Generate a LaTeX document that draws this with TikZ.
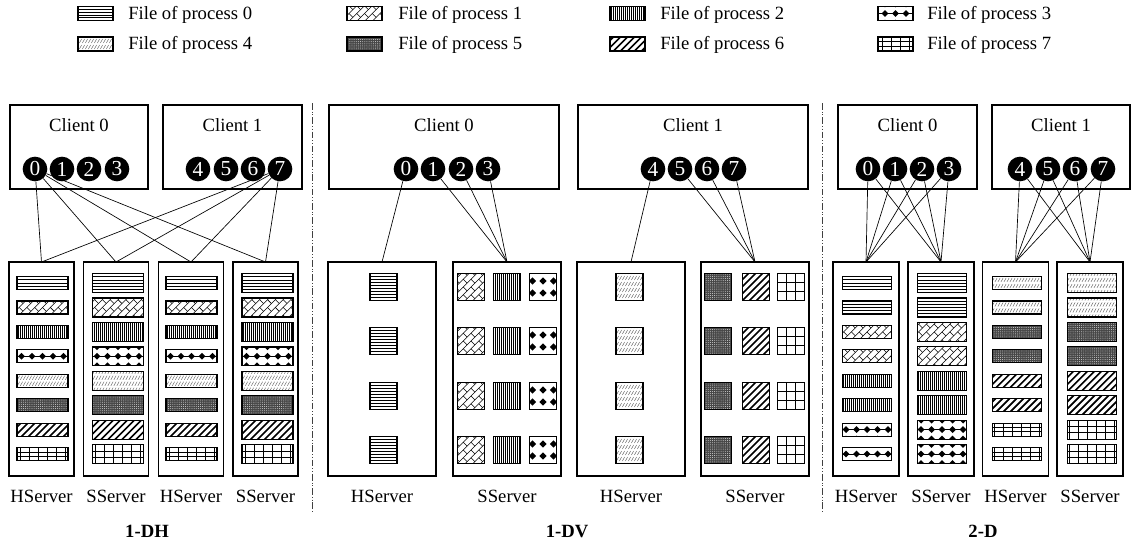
\documentclass[tikz,border=0pt]{standalone}
\usepackage{fontspec}
\setmainfont{Liberation Serif}
\usetikzlibrary{patterns.meta}
\tikzset{
  txt/.style={font=\fontsize{14}{16}\selectfont, inner sep=0pt},
  ttl/.style={font=\fontsize{14}{16}\selectfont\bfseries, inner sep=0pt},
  clientbox/.style={draw, line width=0.8pt, minimum height=63pt, inner sep=0pt, outer sep=0pt},
  srvbox/.style={draw, line width=0.8pt, minimum height=160.5pt, inner sep=0pt, outer sep=0pt},
  proc/.style={circle, fill=black, text=white, minimum size=18.5pt, inner sep=0pt, font=\fontsize{16}{16}\selectfont},
  conn/.style={line width=0.5pt},
  patline/.style={line width=0.4pt},
  hatchline/.style={line width=0.35pt, black!60},
  patborder/.style={line width=0.9pt},
  sepline/.style={line width=0.6pt, black!75, dash pattern=on 5pt off 1.5pt on 0.6pt off 1.5pt on 0.6pt off 1.5pt},
}
% kind, cx, cy, w, h  (picture units)
\newcommand\patbox[5]{%
  \begin{scope}
    \clip ({#2-#4/2},{#3-#5/2}) rectangle ({#2+#4/2},{#3+#5/2});
    \ifcase#1\relax
      % 0: horizontal lines
      \pgfmathtruncatemacro\nl{#5/3.3}%
      \foreach \pi in {1,...,\nl}
        \draw[patline] ({#2-#4/2},{#3-#5/2+#5*\pi/(\nl+1)}) -- ({#2+#4/2},{#3-#5/2+#5*\pi/(\nl+1)});
    \or
      % 1: rotated bricks
      \begin{scope}[shift={(#2,#3)}, rotate=45]
        \foreach \pr in {-7,...,7} {
          \draw[patline] (-45,{\pr*5.5}) -- (45,{\pr*5.5});
          \pgfmathsetmacro\boff{mod(\pr+20,2)*5.5}
          \foreach \pc in {-4,...,4}
            \draw[patline] ({\pc*11+\boff},{\pr*5.5}) -- ({\pc*11+\boff},{\pr*5.5+5.5});
        }
      \end{scope}
    \or
      % 2: dense vertical lines
      \foreach \pc in {-16,...,16}
        \draw[line width=0.45pt] ({#2+\pc*2},{#3-20}) -- ({#2+\pc*2},{#3+20});
    \or
      % 3: black diamonds
      \ifdim#5pt>20pt
        \foreach \pr in {-1,0} {
          \foreach \pc in {-2,...,2}
            \fill ({#2+\pc*10.5},{#3+(\pr+0.5)*12}) +(0,-3.6) -- +(3.6,0) -- +(0,3.6) -- +(-3.6,0) -- cycle;
        }
      \else
        \foreach \pr in {-1,0,1} {
          \draw[patline] ({#2-30},{#3+\pr*9.5}) -- ({#2+30},{#3+\pr*9.5});
          \foreach \pc in {-3,...,3}
            \fill ({#2+\pc*10.5},{#3+\pr*9.5}) +(0,-3.4) -- +(3.4,0) -- +(0,3.4) -- +(-3.4,0) -- cycle;
        }
      \fi
    \or
      % 4: light short hatches
      \foreach \pr in {-3,...,2} {
        \draw[hatchline] \foreach \pc in {-10,...,10} {
          ({#2+\pc*3-1.1},{#3+(\pr+0.5)*6+2}) -- ({#2+\pc*3+1.1},{#3+(\pr+0.5)*6-2}) };
      }
    \or
      % 5: dark dotted
      \fill[black!72] ({#2-#4/2},{#3-#5/2}) rectangle ({#2+#4/2},{#3+#5/2});
      \fill[pattern={Dots[distance=1.6pt, radius=0.35pt]}, pattern color=white!85!black]
        ({#2-#4/2},{#3-#5/2}) rectangle ({#2+#4/2},{#3+#5/2});
    \or
      % 6: bold diagonals
      \foreach \pc in {-6,...,6}
        \draw[line width=1.2pt] ({#2+\pc*7-20},{#3+20}) -- ({#2+\pc*7+20},{#3-20});
    \or
      % 7: grid
      \draw[line width=0.5pt] ({#2-#4/2},{#3-#5/6}) -- ({#2+#4/2},{#3-#5/6})
                              ({#2-#4/2},{#3+#5/6}) -- ({#2+#4/2},{#3+#5/6});
      \foreach \pc in {-3,...,2}
        \draw[line width=0.5pt] ({#2+(\pc+0.5)*9},{#3-20}) -- ({#2+(\pc+0.5)*9},{#3+20});
    \fi
  \end{scope}
  \draw[patborder] ({#2-#4/2},{#3-#5/2}) rectangle ({#2+#4/2},{#3+#5/2});
}
\begin{document}
\begin{tikzpicture}[x=0.75pt, y=-0.75pt]
\useasboundingbox (0,0) rectangle (1131,543);

% ---------- legend ----------
\foreach \kk/\xs/\xt/\ys/\yt in {0/95.5/128/13.5/19.5, 1/364.5/398/13.5/19.5, 2/627.5/660/13.5/19.5, 3/895.5/927/13.5/19.5,
                               4/95.5/128/44/49.5, 5/364.5/398/44/49.5, 6/627.5/660/44/49.5, 7/895.5/927/44/49.5} {
  \patbox{\kk}{\xs}{\ys}{35}{14}
  \node[txt, anchor=base west] (leg\kk) at (\xt,\yt) {File of process \kk};
}

% ---------- separators ----------
\draw[sepline] (312.5,103) -- (312.5,513);
\draw[sepline] (822.5,103) -- (822.5,513);

% ---------- 1-DH ----------
\node[clientbox, minimum width=103.5pt] (dhC0) at (79,147) {};
\node[clientbox, minimum width=104.25pt] (dhC1) at (232.5,147) {};
\node[txt, anchor=base] (dhL0) at (79,131) {Client 0};
\node[txt, anchor=base] (dhL1) at (232.5,131) {Client 1};
\foreach \i/\x in {0/35,1/62,2/89,3/117,4/198,5/226,6/253,7/280}
  \node[proc] (dhp\i) at (\x,169) {\i};
\foreach \n/\x in {A/41.5,B/116,C/191,D/265.5}
  \node[srvbox, minimum width=48.75pt] (dh\n) at (\x,369) {};
\foreach \n in {A,B,C,D} {
  \draw[conn] (dhp0) -- (dh\n.north);
  \draw[conn] (dhp7) -- (dh\n.north);
}
\foreach \kk/\yy in {0/283,1/307.4,2/331.9,3/356.3,4/380.7,5/405.1,6/429.6,7/454} {
  \patbox{\kk}{42.5}{\yy}{51}{13}
  \patbox{\kk}{118}{\yy}{51}{19}
  \patbox{\kk}{191.5}{\yy}{51}{13}
  \patbox{\kk}{267.5}{\yy}{51}{19}
}
\node[txt, anchor=base] (dhTA) at (41.5,502) {HServer};
\node[txt, anchor=base] (dhTB) at (116,502) {SServer};
\node[txt, anchor=base] (dhTC) at (191,502) {HServer};
\node[txt, anchor=base] (dhTD) at (265.5,502) {SServer};
\node[ttl, anchor=base] (dhT) at (147,537) {1-DH};

% ---------- 1-DV ----------
\node[clientbox, minimum width=172.5pt] (dvC0) at (444,147) {};
\node[clientbox, minimum width=172.5pt] (dvC1) at (693,147) {};
\node[txt, anchor=base] (dvL0) at (444,131) {Client 0};
\node[txt, anchor=base] (dvL1) at (693,131) {Client 1};
\foreach \i/\x in {0/406,1/433,2/461,3/488,4/653,5/680,6/707,7/734}
  \node[proc] (dvp\i) at (\x,169) {\i};
\foreach \n/\x in {A/382,B/507,C/631,D/755}
  \node[srvbox, minimum width=81pt] (dv\n) at (\x,369) {};
\draw[conn] (dvp0) -- (dvA.north);
\foreach \i in {1,2,3} \draw[conn] (dvp\i) -- (dvB.north);
\draw[conn] (dvp4) -- (dvC.north);
\foreach \i in {5,6,7} \draw[conn] (dvp\i) -- (dvD.north);
\foreach \yy in {287,341,396,450} {
  \patbox{0}{383.5}{\yy}{27}{27}
  \patbox{1}{471}{\yy}{27}{27}
  \patbox{2}{507}{\yy}{27}{27}
  \patbox{3}{543}{\yy}{27}{27}
  \patbox{4}{629.5}{\yy}{27}{27}
  \patbox{5}{718}{\yy}{27}{27}
  \patbox{6}{756}{\yy}{27}{27}
  \patbox{7}{791}{\yy}{27}{27}
}
\node[txt, anchor=base] (dvTA) at (382,502) {HServer};
\node[txt, anchor=base] (dvTB) at (507,502) {SServer};
\node[txt, anchor=base] (dvTC) at (631,502) {HServer};
\node[txt, anchor=base] (dvTD) at (755,502) {SServer};
\node[ttl, anchor=base] (dvT) at (567,537) {1-DV};

% ---------- 2-D ----------
\node[clientbox, minimum width=104.25pt] (tdC0) at (907.5,147) {};
\node[clientbox, minimum width=103.5pt] (tdC1) at (1061,147) {};
\node[txt, anchor=base] (tdL0) at (907.5,131) {Client 0};
\node[txt, anchor=base] (tdL1) at (1061,131) {Client 1};
\foreach \i/\x in {0/868,1/895,2/922,3/949,4/1020,5/1048,6/1075,7/1103}
  \node[proc] (tdp\i) at (\x,169) {\i};
\foreach \n/\x in {A/866,B/941,C/1015.5,D/1090}
  \node[srvbox, minimum width=49.5pt] (td\n) at (\x,369) {};
\foreach \i in {0,...,3} {
  \draw[conn] (tdp\i) -- (tdA.north);
  \draw[conn] (tdp\i) -- (tdB.north);
}
\foreach \i in {4,...,7} {
  \draw[conn] (tdp\i) -- (tdC.north);
  \draw[conn] (tdp\i) -- (tdD.north);
}
\foreach \kk/\yy in {0/283,0/307.4,1/331.9,1/356.3,2/380.7,2/405.1,3/429.6,3/454} {
  \patbox{\kk}{867}{\yy}{49}{13}
  \patbox{\kk}{942}{\yy}{49}{19}
}
\foreach \kk/\yy in {4/283,4/307.4,5/331.9,5/356.3,6/380.7,6/405.1,7/429.6,7/454} {
  \patbox{\kk}{1017}{\yy}{49}{13}
  \patbox{\kk}{1092}{\yy}{49}{19}
}
\node[txt, anchor=base] (tdTA) at (866,502) {HServer};
\node[txt, anchor=base] (tdTB) at (941,502) {SServer};
\node[txt, anchor=base] (tdTC) at (1015.5,502) {HServer};
\node[txt, anchor=base] (tdTD) at (1090,502) {SServer};
\node[ttl, anchor=base] (tdT) at (983,537) {2-D};
\end{tikzpicture}
\end{document}
